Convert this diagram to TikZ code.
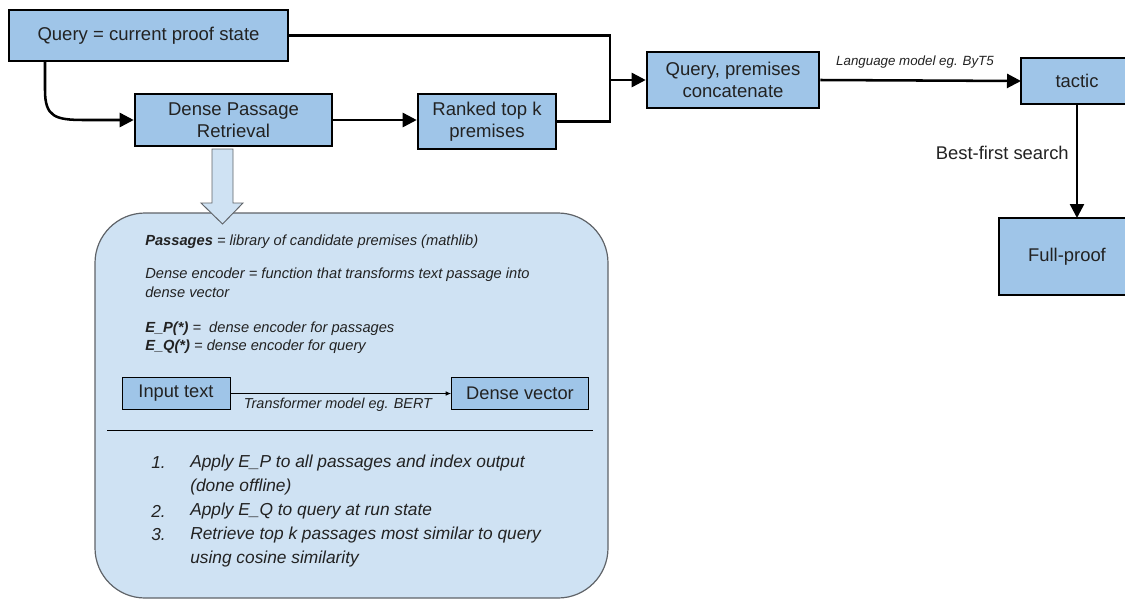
\documentclass[tikz,border=0pt]{standalone}
\usepackage{fontspec}
\setmainfont{Liberation Sans}
\usetikzlibrary{arrows.meta}
\definecolor{boxblue}{HTML}{9FC5E8}
\definecolor{panelblue}{HTML}{CFE2F3}
\definecolor{panelgray}{HTML}{5F6368}
\definecolor{ink}{HTML}{222222}
\begin{document}
\begin{tikzpicture}[x=0.75pt,y=-0.75pt,
  mainbox/.style={draw=black, fill=boxblue, line width=1.9pt, inner sep=0pt, align=center,
    text=ink, font=\fontsize{13.9pt}{16.5pt}\selectfont},
  boxframe/.style={draw=black, fill=boxblue, line width=1.9pt},
  smallbox/.style={draw=black, fill=boxblue, line width=0.7pt, inner sep=0pt, align=center,
    text=ink, font=\fontsize{13.7pt}{16pt}\selectfont, minimum height=24pt},
  conn/.style={draw=black, line width=1.9pt},
  arr/.style={conn, -{Triangle[length=10.5pt,width=10.5pt]}},
  itsmall/.style={text=ink, font=\fontsize{10pt}{12pt}\selectfont\itshape, inner sep=0pt},
  inner/.style={text=ink, font=\fontsize{11pt}{14.25pt}\selectfont\itshape, inner sep=0pt, anchor=west, align=left},
  listtxt/.style={text=ink, font=\fontsize{13pt}{18pt}\selectfont\itshape, inner sep=0pt, anchor=west},
  lbl/.style={text=ink, font=\fontsize{13.8pt}{16pt}\selectfont, inner sep=0pt}
]
\useasboundingbox (0,0) rectangle (1125,601);

% top-level boxes
\node[mainbox, minimum width=209.25pt, minimum height=38.25pt] (q) at (148.5,35.5) {Query = current proof state};
\node[mainbox, minimum width=147.75pt, minimum height=39pt] (dpr) at (233.5,120) {Dense Passage\\Retrieval};
\node[mainbox, minimum width=103.5pt, minimum height=41.25pt] (rk) at (487,121.5) {Ranked top k\\premises};
\node[mainbox, minimum width=129pt, minimum height=42pt] (cc) at (733,80) {Query, premises\\concatenate};
% boxes running off the right edge
\begin{scope}
  \clip (0,0) rectangle (1125,601);
  \draw[boxframe] (1021,58) rectangle (1140,104);
  \draw[boxframe] (999,218) rectangle (1140,295);
\end{scope}
\node[lbl] (tac) at (1077,81) {tactic};
\node[lbl] (fp) at (1067,256.5) {Full-proof};
\coordinate (tacw) at (1021,81);
\coordinate (tacs) at (1077,104);
\coordinate (fpn) at (1077,218);

% connectors
\coordinate (qs) at (45,61);
\coordinate (jb) at (610,121.5);
\coordinate (jm) at (610,80);
\draw[conn] (q.east) -| (jb) -- (rk.east);
\draw[arr] (jm) -- (cc.west);
\draw[arr] (qs) -- (45,90) .. controls (45,117) and (55,120) .. (85,120) -- (dpr.west);
\draw[arr] (dpr.east) -- (rk.west |- dpr.east);
\draw[arr] (cc.east) -- (tacw);
\node[itsmall] (lm) at (915,62) {Language model eg. ByT5};
\draw[arr] (tacs) -- (fpn);
\node[lbl, anchor=east] (bfs) at (1069,153) {Best-first search};

% panel
\node[draw=panelgray, fill=panelblue, line width=0.9pt, rounded corners=37.5pt,
  minimum width=384.75pt, minimum height=288.75pt, inner sep=0pt] (panel) at (351.5,405.5) {};
\draw[draw=panelgray, fill=panelblue, line width=0.7pt]
  (212,149) -- (233,149) -- (233,203) -- (243,203) -- (222.5,224) -- (201,203) -- (212,203) -- cycle;

% panel contents
\node[inner] (t1) at (145,242) {\textbf{Passages} = library of candidate premises (mathlib)};
\node[inner, anchor=north west] (t2) at (145,268) {Dense encoder = function that transforms text passage into\\dense vector};
\node[inner] (t3) at (145,329) {\textbf{E\_P(*)} = \ dense encoder for passages};
\node[inner] (t4) at (145,347) {\textbf{E\_Q(*)} = dense encoder for query};

\node[smallbox, minimum width=81pt] (in) at (176,393.5) {Input text};
\node[smallbox, minimum width=102.75pt] (dv) at (520,393.5) {Dense vector};
\draw[line width=0.6pt, -{Latex[length=4pt,width=3.5pt]}] (in.east) -- (dv.west);
\node[itsmall, font=\fontsize{10.8pt}{12pt}\selectfont\itshape] (tm) at (338,405) {Transformer model eg. BERT};

\draw[line width=0.7pt] (107,430) -- (593,430);

\node[listtxt] (n1) at (151,463) {1.};
\node[listtxt] (l1) at (190,463) {Apply E\_P to all passages and index output};
\node[listtxt] (l1b) at (190,487) {(done offline)};
\node[listtxt] (n2) at (151,511) {2.};
\node[listtxt] (l2) at (190,511) {Apply E\_Q to query at run state};
\node[listtxt] (n3) at (151,535) {3.};
\node[listtxt] (l3) at (190,535) {Retrieve top k passages most similar to query};
\node[listtxt] (l3b) at (190,559) {using cosine similarity};
\end{tikzpicture}
\end{document}
